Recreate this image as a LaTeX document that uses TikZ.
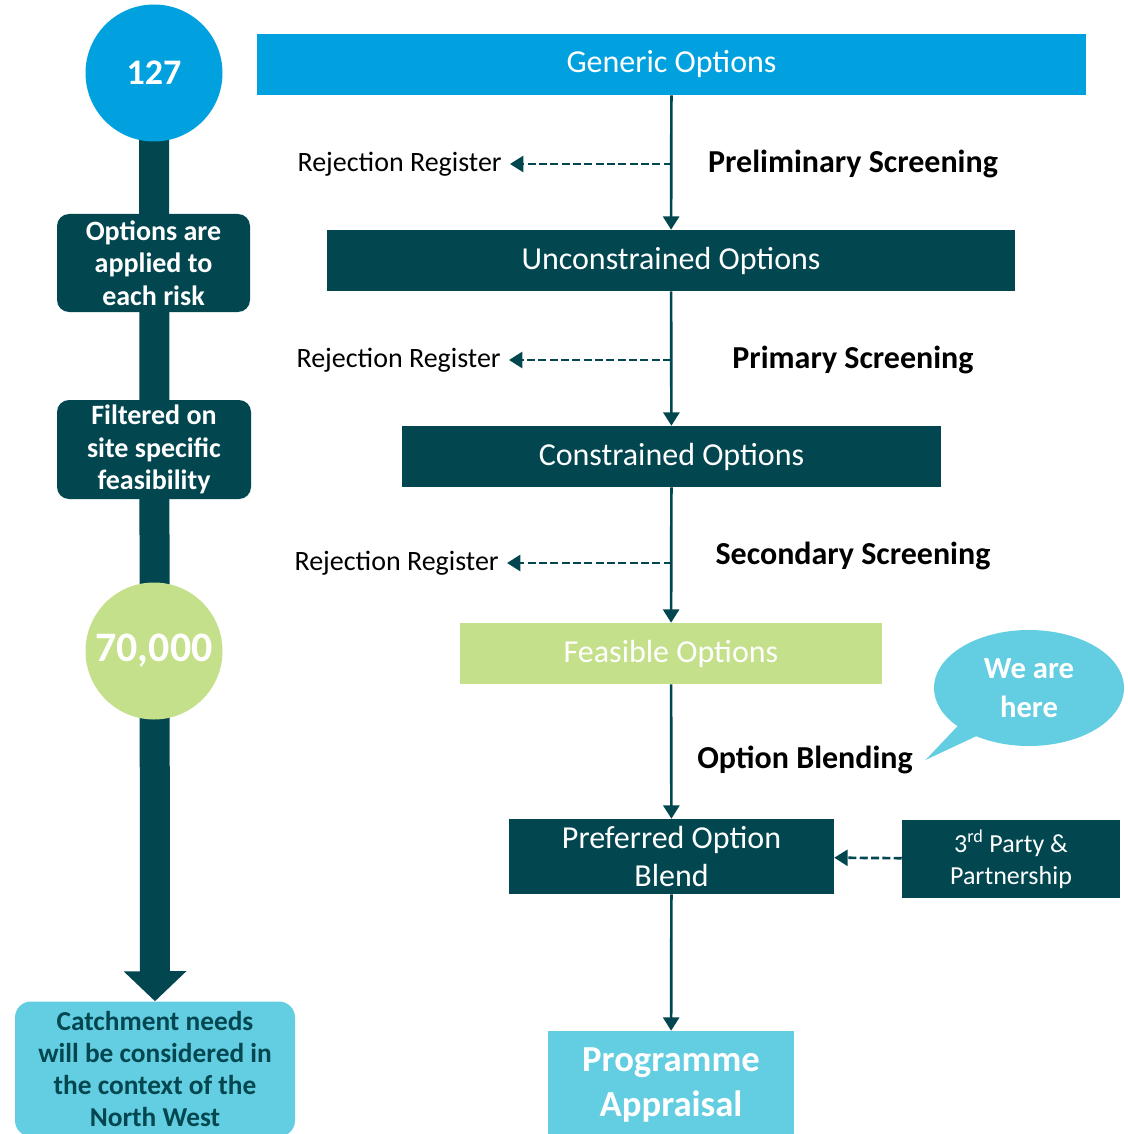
\documentclass[tikz,border=0pt]{standalone}
\usepackage{fontspec}
\setmainfont{Carlito}
\usetikzlibrary{arrows.meta,positioning,shapes.callouts,backgrounds}
\definecolor{DeepTeal}{RGB}{2,71,80}
\definecolor{SkyBlue}{RGB}{0,161,222}
\definecolor{LimeGreen}{RGB}{197,224,138}
\definecolor{Aqua}{RGB}{99,205,225}
\newcommand{\pxu}{0.75pt}
\tikzset{
  stage/.style={rectangle,inner sep=0pt,text=white,align=center,
    font=\fontsize{24}{29}\selectfont},
  sidebox/.style={rectangle,rounded corners=9pt,fill=DeepTeal,inner sep=0pt,
    text=white,align=center,font=\fontsize{21}{24.5}\selectfont\bfseries},
  bignum/.style={circle,inner sep=0pt,minimum size=137*\pxu,text=white},
  reject/.style={anchor=east,inner sep=6pt,font=\fontsize{21}{24}\selectfont},
  screen/.style={font=\fontsize{24}{28}\selectfont\bfseries},
  flow/.style={->,line width=2pt,DeepTeal},
  back/.style={->,line width=2pt,DeepTeal,dash pattern=on 6pt off 2.5pt},
}
\begin{document}
\begin{tikzpicture}[x=0.75pt,y=-0.75pt,>={Triangle[width=12pt,length=10pt]}]
  \clip (0,0) rectangle (1127,1134);
  % left column
  \node[bignum,fill=SkyBlue,font=\fontsize{27}{32}\selectfont\bfseries] (n127) at (154,73) {127};
  \node[sidebox,minimum width=193*\pxu,minimum height=98*\pxu] (risk) at (153.5,263)
    {Options are\\applied to\\each risk};
  \node[sidebox,minimum width=194*\pxu,minimum height=99*\pxu] (filt) at (154,449.5)
    {Filtered on\\site specific\\feasibility};
  \node[bignum,fill=LimeGreen,font=\fontsize{31.5}{36}\selectfont\bfseries] (n70) at (154,651) {70,000};
  \node[sidebox,fill=Aqua,text=DeepTeal,minimum width=280*\pxu,minimum height=135*\pxu,
    rounded corners=12pt,font=\fontsize{20.5}{24.2}\selectfont\bfseries] (catch) at (155,1069)
    {Catchment needs\\will be considered in\\the context of the\\North West};
  \begin{scope}[on background layer]
    \draw[DeepTeal,line width=30*\pxu,-{Triangle[width=61*\pxu,length=30*\pxu]}]
      (n127.center) -- (catch.north);
  \end{scope}
  % main flow
  \node[stage,fill=SkyBlue,minimum width=829*\pxu,minimum height=61*\pxu] (gen) at (671.5,64.5) {Generic Options};
  \node[stage,fill=DeepTeal,minimum width=688*\pxu,minimum height=61*\pxu] (uncon) at (671,260.5) {Unconstrained Options};
  \node[stage,fill=DeepTeal,minimum width=539*\pxu,minimum height=61*\pxu] (con) at (671.5,456.5) {Constrained Options};
  \node[stage,fill=LimeGreen,minimum width=422*\pxu,minimum height=61*\pxu] (feas) at (671,653.5) {Feasible Options};
  \node[stage,fill=DeepTeal,minimum width=325*\pxu,minimum height=75*\pxu] (pref) at (671.5,856.5) {Preferred Option\\Blend};
  \node[stage,fill=Aqua,minimum width=246*\pxu,minimum height=108*\pxu,
    font=\fontsize{27.5}{34}\selectfont\bfseries] (prog) at (671,1085) {Programme\\Appraisal};
  \node[stage,fill=DeepTeal,minimum width=218*\pxu,minimum height=78*\pxu,
    font=\fontsize{19.5}{24}\selectfont] (third) at (1011,859) {3\textsuperscript{rd} Party \&\\Partnership};

  \node[reject] (rej1) at (510,164) {Rejection Register};
  \node[reject] (rej2) at (509,360) {Rejection Register};
  \node[reject] (rej3) at (507,563) {Rejection Register};
  \node[screen] (scr1) at (853,164) {Preliminary Screening};
  \node[screen] (scr2) at (853,360) {Primary Screening};
  \node[screen] (scr3) at (853,556) {Secondary Screening};
  \node[screen] (blendlab) at (805,760) {Option Blending};

  \draw[flow] (gen) -- (uncon);
  \draw[flow] (uncon) -- (con);
  \draw[flow] (con) -- (feas);
  \draw[flow] (feas) -- (pref);
  \draw[flow] (pref) -- (prog);
  \draw[back] (gen.south |- rej1.east) -- (rej1.east);
  \draw[back] (uncon.south |- rej2.east) -- (rej2.east);
  \draw[back] (con.south |- rej3.east) -- (rej3.east);
  \draw[back] (third) -- (pref);

  \node[ellipse callout,fill=Aqua,text=white,minimum width=190*\pxu,minimum height=116*\pxu,
    inner sep=0pt,align=center,font=\fontsize{23}{29}\selectfont\bfseries,
    callout absolute pointer={([xshift=6pt]blendlab.east)}] (here) at (1029,688) {We are\\here};
\end{tikzpicture}
\end{document}
